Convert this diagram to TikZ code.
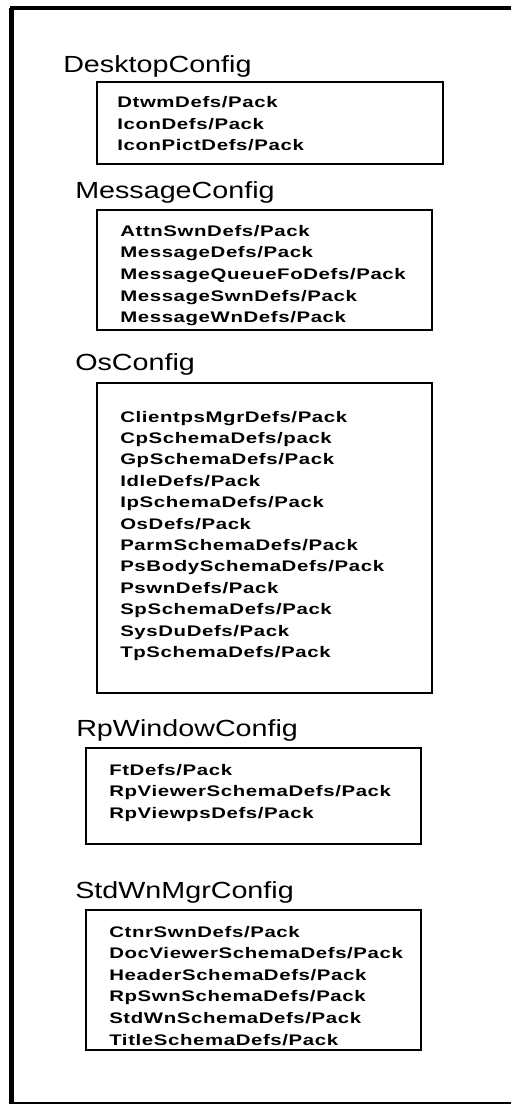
\documentclass[tikz,border=0pt]{standalone}
\usepackage{fontspec}
\setmainfont{Liberation Sans}
\newfontfamily\headfont[FakeStretch=1.23]{Liberation Sans}
\newfontfamily\itemfont[FakeStretch=1.33,LetterSpace=4]{Liberation Sans}

\begin{document}
\begin{tikzpicture}[x=0.75pt, y=-0.75pt,
    head/.style={anchor=base west, inner sep=0pt, font=\headfont\fontsize{17.5}{20}\selectfont},
    item/.style={anchor=base west, inner sep=0pt, font=\itemfont\bfseries\fontsize{11.5}{13}\selectfont},
    pkgbox/.style={draw, line width=2pt}]
\useasboundingbox (0,0) rectangle (511,1106);
\draw[line width=3.6pt] (11.5,8) -- (11.5,1104);
\draw[line width=3pt] (10,8.5) -- (511,8.5);
\draw[line width=1.5pt] (10,1103) -- (511,1103);

\node[head] (desktop) at (63,73) {DesktopConfig};
\draw[pkgbox] (97,82) rectangle (443,164);
\foreach \t [count=\i] in {DtwmDefs/Pack, IconDefs/Pack, IconPictDefs/Pack}
    \node[item] (dt\i) at (117,108+21*\i-21) {\t};

\node[head] (message) at (75,198) {MessageConfig};
\draw[pkgbox] (97,210) rectangle (432,330);
\foreach \t [count=\i] in {AttnSwnDefs/Pack, MessageDefs/Pack, MessageQueueFoDefs/Pack,
    MessageSwnDefs/Pack, MessageWnDefs/Pack}
    \node[item] (msg\i) at (120,236+21.7*\i-21.7) {\t};

\node[head] (os) at (75,370) {OsConfig};
\draw[pkgbox] (97,383) rectangle (432,693);
\foreach \t [count=\i] in {ClientpsMgrDefs/Pack, CpSchemaDefs/pack, GpSchemaDefs/Pack,
    IdleDefs/Pack, IpSchemaDefs/Pack, OsDefs/Pack, ParmSchemaDefs/Pack,
    PsBodySchemaDefs/Pack, PswnDefs/Pack, SpSchemaDefs/Pack, SysDuDefs/Pack,
    TpSchemaDefs/Pack}
    \node[item] (os\i) at (120,422+21.4*\i-21.4) {\t};

\node[head] (rpwin) at (76,736) {RpWindowConfig};
\draw[pkgbox] (86,748) rectangle (421,844);
\foreach \t [count=\i] in {FtDefs/Pack, RpViewerSchemaDefs/Pack, RpViewpsDefs/Pack}
    \node[item] (rp\i) at (109,775+21.5*\i-21.5) {\t};

\node[head] (stdwn) at (75,898) {StdWnMgrConfig};
\draw[pkgbox] (86,910) rectangle (421,1050);
\foreach \t [count=\i] in {CtnrSwnDefs/Pack, DocViewerSchemaDefs/Pack, HeaderSchemaDefs/Pack,
    RpSwnSchemaDefs/Pack, StdWnSchemaDefs/Pack, TitleSchemaDefs/Pack}
    \node[item] (std\i) at (109,937+21.6*\i-21.6) {\t};
\end{tikzpicture}
\end{document}
